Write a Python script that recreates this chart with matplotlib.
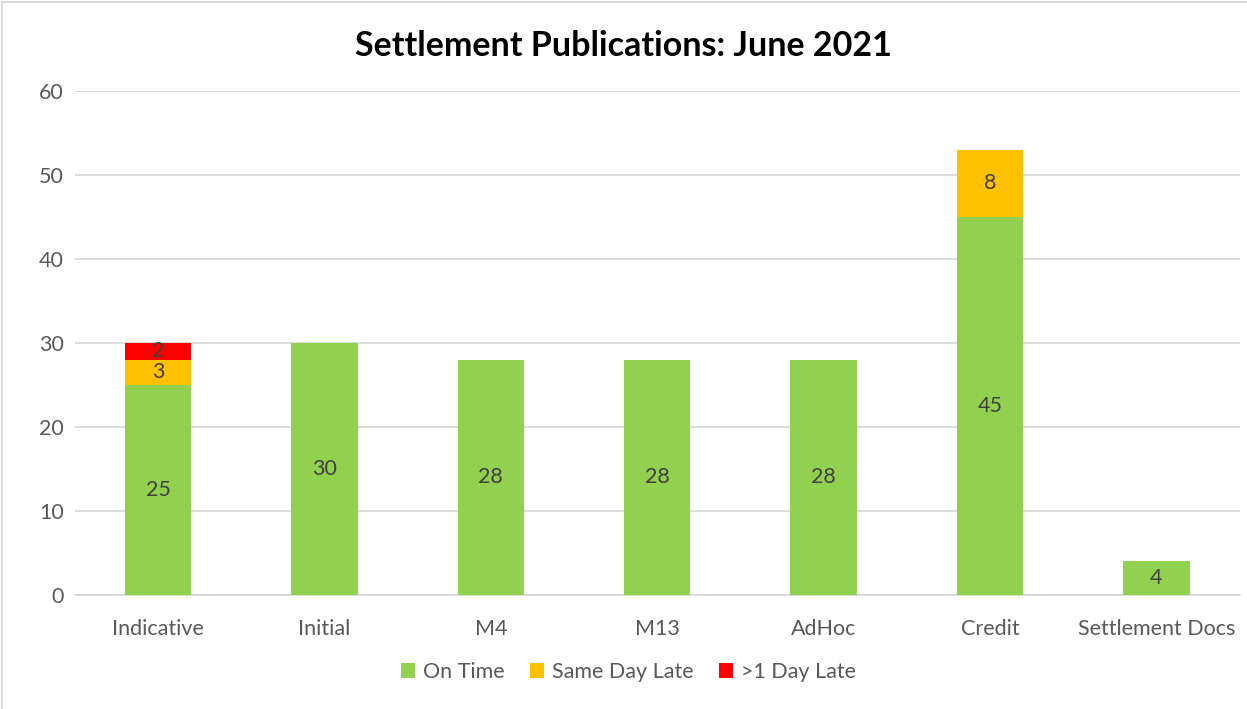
import numpy as np
import matplotlib
matplotlib.use('Agg')
from matplotlib import pyplot as plt
from matplotlib.patches import Rectangle

categories = ['Indicative', 'Initial', 'M4', 'M13', 'AdHoc', 'Credit', 'Settlement Docs']
on_time = [25, 30, 28, 28, 28, 45, 4]
same_day_late = [3, 0, 0, 0, 0, 8, 0]
day_late = [2, 0, 0, 0, 0, 0, 0]
series_names = ['On Time', 'Same Day Late', '>1 Day Late']
colors = ['#92D050', '#FFC000', '#FF0000']

plt.rcParams['font.family'] = ['Lato', 'DejaVu Sans']

fig = plt.figure(figsize=(12.47, 7.09), dpi=100)
ax = fig.add_axes([0.060, 0.1608, 0.934, 0.7108])

x = np.arange(len(categories))
bottom = np.zeros(len(categories))
for vals, name, c in zip([on_time, same_day_late, day_late], series_names, colors):
    vals = np.array(vals, dtype=float)
    ax.bar(x, vals, 0.40, bottom=bottom, color=c, label=name, zorder=3)
    for xi, v, b in zip(x, vals, bottom):
        if v > 0:
            ax.text(xi, b + v / 2, str(int(v)), ha='center', va='center',
                    fontsize=15.5, color='#404040', zorder=4)
    bottom += vals

ax.set_xlim(-0.5, len(categories) - 0.5)
ax.set_ylim(0, 60)
ax.set_yticks(range(0, 61, 10))
ax.set_xticks(x)
ax.set_xticklabels(categories)
ax.tick_params(axis='both', length=0, labelsize=15.5, colors='#595959')
ax.tick_params(axis='y', pad=8)
ax.tick_params(axis='x', pad=17)
ax.yaxis.grid(True, color='#D9D9D9', linewidth=1.3, zorder=0)
for s in ['left', 'right', 'top']:
    ax.spines[s].set_visible(False)
ax.spines['bottom'].set_color('#D9D9D9')
ax.spines['bottom'].set_linewidth(1.3)

fig.text(0.5, 0.935, 'Settlement Publications: June 2021', fontsize=24.5, fontweight='bold',
         color='black', ha='center', va='center')

leg = fig.legend(loc='center', bbox_to_anchor=(0.504, 0.052), ncol=3, frameon=False,
                 fontsize=15.5, handlelength=0.65, handleheight=0.65, columnspacing=1.2,
                 handletextpad=0.35)
for t in leg.get_texts():
    t.set_color('#595959')

# chart area border (image cropped on right/bottom)
fig.patches.append(Rectangle((0.0016, -0.01), 1.05, 1.007, transform=fig.transFigure,
                             fill=False, edgecolor='#D9D9D9', linewidth=1.3))

fig.savefig('out.png', dpi=100)
